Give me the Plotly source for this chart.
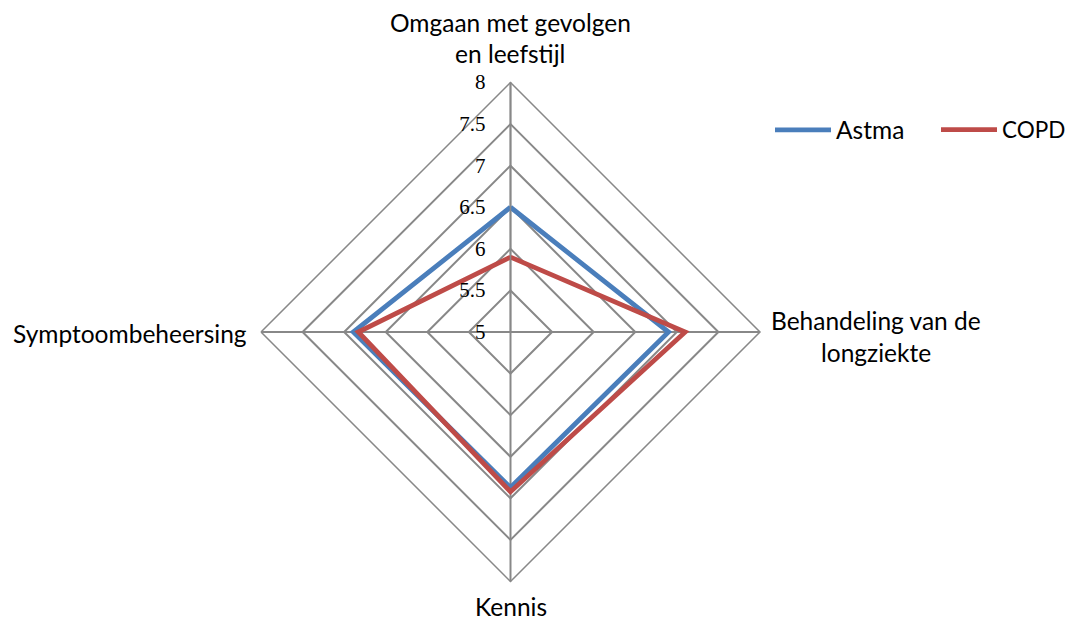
import plotly.graph_objects as go

# Categories (clockwise from the top) and scores per group
categories = ["Omgaan met gevolgen en leefstijl", "Behandeling van de longziekte",
              "Kennis", "Symptoombeheersing"]
astma = [6.5, 6.9, 6.87, 6.89]
copd = [5.9, 7.1, 6.92, 6.83]

radial_ticks = [5, 5.5, 6, 6.5, 7, 7.5, 8]

BLUE = "#4A7EBB"
RED = "#BE4B48"
GRID = "#888888"
FONT_FAMILY = "Lato, Open Sans, sans-serif"
LABEL_FONT = dict(family=FONT_FAMILY, size=24.5, color="#000000")

fig = go.Figure()
for name, vals, col, leg in [("Astma", astma, BLUE, "legend"),
                             ("COPD", copd, RED, "legend2")]:
    fig.add_trace(go.Scatterpolar(
        r=vals + vals[:1],
        theta=categories + categories[:1],
        mode="lines",
        name=name,
        legend=leg,
        line=dict(color=col, width=4.8),
    ))

cx, cy, rad = 510.5, 332, 249.5
W, H = 1072, 621

legend_style = dict(
    orientation="h",
    xanchor="left", yanchor="middle",
    y=1 - 130 / H,
    itemwidth=56,
    bgcolor="rgba(0,0,0,0)",
)

fig.update_layout(
    width=W, height=H,
    margin=dict(l=0, r=0, t=0, b=0),
    paper_bgcolor="white",
    plot_bgcolor="white",
    polar=dict(
        domain=dict(x=[(cx - rad) / W, (cx + rad) / W],
                    y=[(H - cy - rad) / H, (H - cy + rad) / H]),
        gridshape="linear",
        bgcolor="white",
        radialaxis=dict(
            range=[5, 8],
            tickvals=radial_ticks,
            ticktext=[f"{t:g}" for t in radial_ticks],
            angle=90,
            tickangle=90,
            side="counterclockwise",
            showline=True, linecolor=GRID, linewidth=1.5,
            gridcolor=GRID, gridwidth=1.5,
            ticks="outside", ticklen=17, tickcolor="rgba(0,0,0,0)",
            tickfont=dict(family="Liberation Serif, serif", size=21, color="#000000"),
        ),
        angularaxis=dict(
            categoryarray=categories,
            direction="clockwise",
            rotation=90,
            showticklabels=False,
            ticks="",
            showline=True, linecolor=GRID, linewidth=1.5,
            gridcolor=GRID, gridwidth=1.5,
        ),
    ),
    showlegend=True,
    legend=dict(legend_style, x=770 / W,
                font=dict(family=FONT_FAMILY, size=24.5, color="#000000")),
    legend2=dict(legend_style, x=936 / W,
                 font=dict(family=FONT_FAMILY, size=22.5, color="#000000")),
)

# Category labels placed around the chart
labels = [
    ("Omgaan met gevolgen", 510, 22),
    ("en leefstijl", 510, 54),
    ("Behandeling van de", 876, 320),
    ("longziekte", 876, 352),
    ("Kennis", 510.5, 606),
    ("Symptoombeheersing", 129.5, 334),
]
for text, x, y in labels:
    fig.add_annotation(
        text=text, x=x / W, y=1 - y / H, xref="paper", yref="paper",
        xanchor="center", yanchor="middle", showarrow=False, font=LABEL_FONT,
    )

fig.write_html("out.html")
